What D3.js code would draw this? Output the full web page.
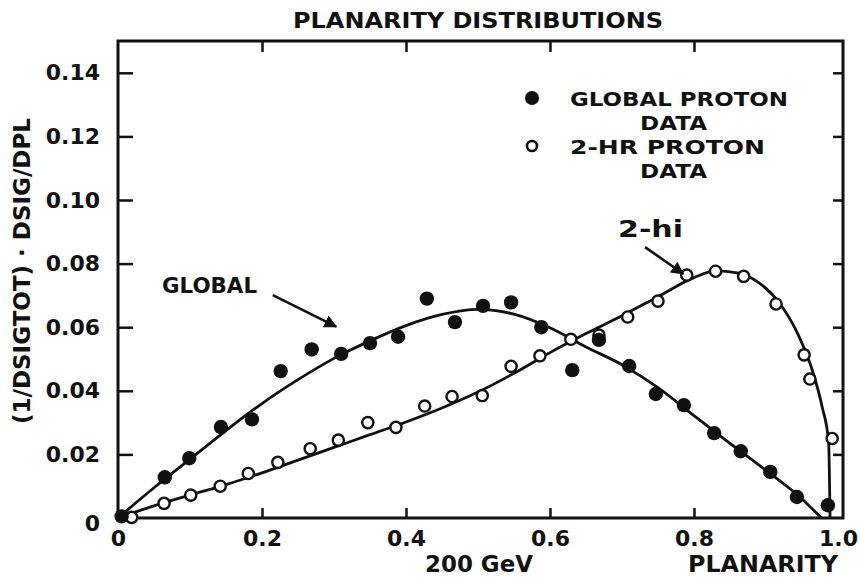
<!DOCTYPE html>
<html>
<head>
<meta charset="utf-8">
<script src="https://cdn.jsdelivr.net/npm/d3@7"></script>
<style>
  html, body { margin: 0; padding: 0; background: #fff; }
  svg { display: block; }
  text { font-family: "DejaVu Sans", "Liberation Sans", Arial, sans-serif; font-weight: bold; fill: #111; }
</style>
</head>
<body>
<svg id="chart" width="860" height="582"></svg>
<script>
// ---- data ----
const xTickValues = [0, 0.2, 0.4, 0.6, 0.8, 1.0];
const xTickLabels = ["0", "0.2", "0.4", "0.6", "0.8", "1.0"];
const yTickValues = [0, 0.02, 0.04, 0.06, 0.08, 0.10, 0.12, 0.14];
const yTickLabels = ["0", "0.02", "0.04", "0.06", "0.08", "0.10", "0.12", "0.14"];

// GLOBAL proton data (filled circles)
const globalX = [0.005, 0.065, 0.099, 0.143, 0.186, 0.226, 0.269, 0.310, 0.350, 0.389, 0.429, 0.468, 0.507, 0.546, 0.588, 0.631, 0.668, 0.710, 0.747, 0.786, 0.828, 0.865, 0.906, 0.943, 0.986];
const globalY = [0.0005, 0.0128, 0.0188, 0.0286, 0.0310, 0.0462, 0.0530, 0.0516, 0.0550, 0.0570, 0.0690, 0.0616, 0.0667, 0.0678, 0.0600, 0.0465, 0.0560, 0.0478, 0.0390, 0.0355, 0.0267, 0.0210, 0.0145, 0.0066, 0.0040];

// 2-HR proton data (open circles)
const twoHrX = [0.019, 0.064, 0.101, 0.142, 0.181, 0.222, 0.267, 0.306, 0.347, 0.386, 0.426, 0.464, 0.506, 0.546, 0.586, 0.629, 0.668, 0.708, 0.750, 0.790, 0.830, 0.869, 0.914, 0.953, 0.961, 0.992];
const twoHrY = [0.0002, 0.0046, 0.0072, 0.0100, 0.0140, 0.0175, 0.0218, 0.0245, 0.0300, 0.0285, 0.0352, 0.0382, 0.0385, 0.0477, 0.0510, 0.0562, 0.0575, 0.0632, 0.0682, 0.0764, 0.0776, 0.0760, 0.0673, 0.0513, 0.0437, 0.0250];

// fitted curves
const globalCurveX = [0, 0.05, 0.10, 0.15, 0.20, 0.25, 0.30, 0.35, 0.40, 0.45, 0.50, 0.55, 0.60, 0.65, 0.70, 0.75, 0.80, 0.85, 0.90, 0.95, 0.977];
const globalCurveY = [0, 0.0095, 0.0185, 0.0275, 0.0360, 0.0435, 0.0502, 0.0557, 0.0605, 0.0640, 0.0656, 0.0641, 0.0598, 0.0538, 0.0482, 0.0410, 0.0322, 0.0235, 0.0150, 0.0060, 0];

const twoHiCurveX = [0, 0.05, 0.10, 0.15, 0.20, 0.25, 0.30, 0.35, 0.40, 0.45, 0.50, 0.55, 0.60, 0.65, 0.70, 0.75, 0.80, 0.83, 0.86, 0.89, 0.92, 0.945, 0.965, 0.978, 0.987, 0.989];
const twoHiCurveY = [0, 0.0038, 0.0072, 0.0105, 0.0142, 0.0182, 0.0222, 0.0262, 0.0302, 0.0346, 0.0396, 0.0455, 0.0520, 0.0580, 0.0636, 0.0696, 0.0756, 0.0777, 0.0771, 0.0740, 0.0672, 0.0575, 0.0460, 0.0350, 0.0240, 0];

// ---- layout ----
const svg = d3.select("#chart");
const L = 118, R = 843, T = 41, B = 518;
const x = d3.scaleLinear().domain([0, 1.007]).range([L, R]);
const y = d3.scaleLinear().domain([0, 0.15]).range([B, T]);
const ink = "#111";

// curves
const line = d3.line().x(d => x(d[0])).y(d => y(d[1])).curve(d3.curveMonotoneX);
svg.append("path").datum(d3.zip(globalCurveX, globalCurveY))
  .attr("d", line).attr("fill", "none").attr("stroke", ink).attr("stroke-width", 2.8);
svg.append("path").datum(d3.zip(twoHiCurveX, twoHiCurveY))
  .attr("d", line).attr("fill", "none").attr("stroke", ink).attr("stroke-width", 2.8);

// axes ticks
const fmtX = d => xTickLabels[xTickValues.indexOf(d)];
const fmtY = d => yTickLabels[yTickValues.indexOf(d)];

const gL = svg.append("g").attr("transform", `translate(${L},0)`)
  .call(d3.axisLeft(y).tickValues(yTickValues).tickFormat(fmtY).tickSize(-15).tickPadding(18));
const gB = svg.append("g").attr("transform", `translate(0,${B})`)
  .call(d3.axisBottom(x).tickValues(xTickValues).tickFormat(fmtX).tickSize(-10).tickPadding(12));
const gT = svg.append("g").attr("transform", `translate(0,${T})`)
  .call(d3.axisTop(x).tickValues(xTickValues.slice(1, 5)).tickFormat("").tickSize(-11));
const gR = svg.append("g").attr("transform", `translate(${R},0)`)
  .call(d3.axisRight(y).tickValues(yTickValues.slice(1)).tickFormat("").tickSize(-10));
[gL, gB, gT, gR].forEach(g => {
  g.select(".domain").remove();
  g.selectAll(".tick line").attr("stroke", ink).attr("stroke-width", 2.5);
  g.selectAll("text").attr("font-size", 22).attr("fill", ink)
    .attr("font-family", '"DejaVu Sans", sans-serif').attr("font-weight", "bold");
});
gL.selectAll(".tick").filter(d => d === 0).select("line").remove();
gL.selectAll(".tick").filter(d => d === 0).select("text").attr("dy", "0.55em");
gB.selectAll(".tick").filter(d => d === 0 || d === 1).select("line").remove();

// frame
svg.append("rect").attr("x", L).attr("y", T).attr("width", R - L).attr("height", B - T)
  .attr("fill", "none").attr("stroke", ink).attr("stroke-width", 3);

// markers
svg.append("g").selectAll("circle").data(d3.zip(twoHrX, twoHrY)).join("circle")
  .attr("cx", d => x(d[0])).attr("cy", d => y(d[1])).attr("r", 5.6)
  .attr("fill", "#fff").attr("stroke", ink).attr("stroke-width", 2.4);
svg.append("g").selectAll("circle").data(d3.zip(globalX, globalY)).join("circle")
  .attr("cx", d => x(d[0])).attr("cy", d => y(d[1])).attr("r", 7.2)
  .attr("fill", ink);

// titles and labels
function label(txt, px, py, size, len, anchor) {
  const t = svg.append("text").attr("x", px).attr("y", py).attr("font-size", size)
    .attr("text-anchor", anchor || "start").text(txt);
  if (len) t.attr("textLength", len).attr("lengthAdjust", "spacingAndGlyphs");
  return t;
}
label("PLANARITY DISTRIBUTIONS", 293, 28, 20.5, 370);
label("200 GeV", 425, 572, 23, 108);
label("PLANARITY", 688, 572, 23, 150);
svg.append("text").attr("transform", "translate(30,271) rotate(-90)")
  .attr("text-anchor", "middle").attr("font-size", 23)
  .attr("textLength", 306).attr("lengthAdjust", "spacingAndGlyphs")
  .text("(1/DSIGTOT) · DSIG/DPL");

// legend
svg.append("circle").attr("cx", 532).attr("cy", 98).attr("r", 7).attr("fill", ink);
label("GLOBAL PROTON", 570, 106, 19, 218);
label("DATA", 640, 130, 19, 67);
svg.append("circle").attr("cx", 532).attr("cy", 146).attr("r", 5).attr("fill", "#fff")
  .attr("stroke", ink).attr("stroke-width", 2.6);
label("2-HR PROTON", 570, 154, 19, 195);
label("DATA", 640, 178, 19, 67);

// annotations with arrows
svg.append("defs").append("marker").attr("id", "arr").attr("viewBox", "0 0 10 10")
  .attr("refX", 9).attr("refY", 5).attr("markerWidth", 5).attr("markerHeight", 5)
  .attr("orient", "auto").attr("markerUnits", "strokeWidth")
  .append("path").attr("d", "M0,0 L10,5 L0,10 z").attr("fill", ink);
label("GLOBAL", 162, 293, 22, 95);
svg.append("line").attr("x1", x(0.215)).attr("y1", y(0.0701)).attr("x2", x(0.303)).attr("y2", y(0.0602))
  .attr("stroke", ink).attr("stroke-width", 2.6).attr("marker-end", "url(#arr)");
label("2-hi", 618, 237, 23, 65);
svg.append("line").attr("x1", x(0.732)).attr("y1", y(0.0852)).attr("x2", x(0.785)).attr("y2", y(0.0768))
  .attr("stroke", ink).attr("stroke-width", 2.6).attr("marker-end", "url(#arr)");
</script>
</body>
</html>
